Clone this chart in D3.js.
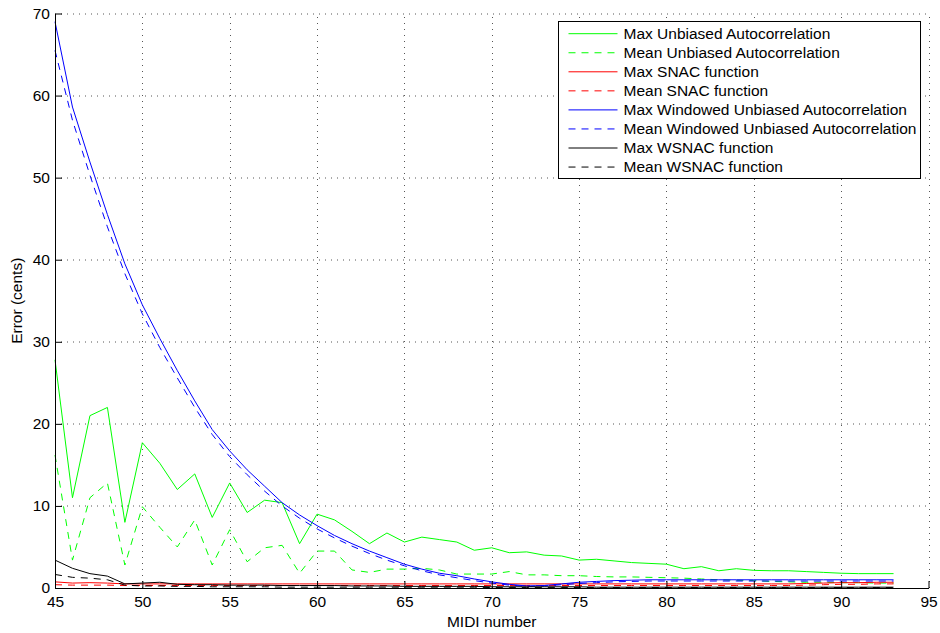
<!DOCTYPE html>
<html>
<head>
<meta charset="utf-8">
<script src="https://cdn.jsdelivr.net/npm/d3@7"></script>
<style>
  html, body { margin: 0; padding: 0; background: #fff; }
  svg { display: block; font-family: "Liberation Sans", Arial, Helvetica, sans-serif; }
</style>
</head>
<body>
<svg id="chart" width="940" height="633"></svg>
<script>
// MIDI note numbers tested
const midi = d3.range(45, 94);

// Pitch error (cents) per MIDI note for each method
const maxUnbiased = [27.8, 11.0, 21.0, 22.0, 8.0, 17.7, 15.2, 12.0, 13.9, 8.6,
  12.8, 9.2, 10.7, 10.4, 5.4, 9.0, 8.3, 6.9, 5.4, 6.7, 5.6, 6.2, 5.9, 5.6, 4.6,
  4.9, 4.3, 4.4, 4.0, 3.9, 3.4, 3.5, 3.3, 3.1, 3.0, 2.9, 2.35, 2.6, 2.1, 2.35,
  2.15, 2.1, 2.1, 2.0, 1.9, 1.8, 1.75, 1.75, 1.75];
const meanUnbiased = [16.2, 3.4, 11.0, 12.8, 2.8, 9.9, 7.4, 5.0, 8.3, 2.8,
  7.1, 3.2, 4.9, 5.2, 1.8, 4.5, 4.5, 2.2, 1.9, 2.3, 2.3, 2.4, 2.2, 1.7, 1.7,
  1.7, 2.0, 1.6, 1.6, 1.5, 1.5, 1.4, 1.35, 1.35, 1.3, 1.25, 1.2, 1.1, 1.0, 0.95,
  0.9, 0.8, 0.75, 0.7, 0.7, 0.65, 0.65, 0.6, 0.6];
const maxSnac = [0.75, 0.6, 0.65, 0.6, 0.5, 0.5, 0.5, 0.5, 0.5, 0.5,
  0.5, 0.5, 0.5, 0.5, 0.5, 0.5, 0.5, 0.5, 0.5, 0.5, 0.5, 0.5, 0.5, 0.5, 0.5,
  0.5, 0.5, 0.5, 0.5, 0.5, 0.5, 0.5, 0.5, 0.5, 0.5, 0.5, 0.5, 0.5, 0.5, 0.5,
  0.5, 0.5, 0.5, 0.55, 0.6, 0.65, 0.65, 0.7, 0.7];
const meanSnac = [0.4, 0.35, 0.35, 0.35, 0.3, 0.3, 0.3, 0.3, 0.3, 0.3,
  0.3, 0.3, 0.3, 0.3, 0.3, 0.3, 0.3, 0.3, 0.3, 0.3, 0.3, 0.3, 0.3, 0.3, 0.3,
  0.3, 0.3, 0.3, 0.3, 0.3, 0.3, 0.3, 0.3, 0.3, 0.3, 0.3, 0.3, 0.3, 0.3, 0.3,
  0.3, 0.3, 0.3, 0.35, 0.4, 0.45, 0.45, 0.5, 0.5];
const maxWindowed = [69.0, 58.6, 51.9, 45.5, 39.5, 34.5, 30.4, 26.5, 22.8, 19.3,
  16.7, 14.4, 12.4, 10.4, 8.9, 7.6, 6.4, 5.4, 4.5, 3.7, 2.9, 2.3, 1.8, 1.5, 1.1,
  0.75, 0.45, 0.25, 0.3, 0.5, 0.7, 0.8, 0.9, 0.95, 1.0, 1.0, 1.0, 1.0, 1.0, 1.0,
  1.0, 1.0, 1.0, 1.0, 1.0, 1.0, 1.0, 1.0, 1.0];
const meanWindowed = [65.5, 57.0, 50.3, 44.0, 38.3, 33.4, 29.3, 25.6, 22.0, 18.7,
  16.0, 13.8, 11.8, 10.0, 8.5, 7.2, 6.1, 5.1, 4.2, 3.4, 2.7, 2.1, 1.6, 1.25, 0.9,
  0.6, 0.35, 0.2, 0.25, 0.4, 0.55, 0.65, 0.75, 0.8, 0.85, 0.85, 0.85, 0.85, 0.85, 0.85,
  0.85, 0.85, 0.85, 0.85, 0.85, 0.85, 0.85, 0.85, 0.85];
const maxWsnac = [3.4, 2.4, 1.75, 1.45, 0.5, 0.6, 0.7, 0.45, 0.4, 0.4,
  0.35, 0.35, 0.35, 0.3, 0.3, 0.3, 0.3, 0.25, 0.25, 0.25, 0.2, 0.2, 0.2, 0.2, 0.2,
  0.15, 0.15, 0.15, 0.15, 0.15, 0.15, 0.1, 0.1, 0.1, 0.1, 0.1, 0.1, 0.1, 0.1, 0.1,
  0.1, 0.1, 0.1, 0.1, 0.1, 0.1, 0.1, 0.1, 0.1];
const meanWsnac = [1.65, 1.3, 1.2, 1.0, 0.35, 0.25, 0.25, 0.2, 0.2, 0.15,
  0.15, 0.15, 0.15, 0.1, 0.1, 0.1, 0.1, 0.1, 0.1, 0.1, 0.1, 0.1, 0.1, 0.1, 0.1,
  0.05, 0.05, 0.05, 0.05, 0.05, 0.05, 0.05, 0.05, 0.05, 0.05, 0.05, 0.05, 0.05, 0.05, 0.05,
  0.05, 0.05, 0.05, 0.05, 0.05, 0.05, 0.05, 0.05, 0.05];

const xTicks = [45, 50, 55, 60, 65, 70, 75, 80, 85, 90, 95];
const yTicks = [0, 10, 20, 30, 40, 50, 60, 70];

const seriesNames = [
  "Max Unbiased Autocorrelation",
  "Mean Unbiased Autocorrelation",
  "Max SNAC function",
  "Mean SNAC function",
  "Max Windowed Unbiased Autocorrelation",
  "Mean Windowed Unbiased Autocorrelation",
  "Max WSNAC function",
  "Mean WSNAC function"
];
const seriesValues = [maxUnbiased, meanUnbiased, maxSnac, meanSnac,
  maxWindowed, meanWindowed, maxWsnac, meanWsnac];
const seriesColors = ["#00ff00", "#00ff00", "#ff0000", "#ff0000",
  "#0000ff", "#0000ff", "#000000", "#000000"];
const seriesDashed = [false, true, false, true, false, true, false, true];

const FONT = "15.5px";
const svg = d3.select("#chart");
const margin = { left: 55, top: 13.5, right: 940 - 928.5, bottom: 633 - 588 };
const W = 940 - margin.left - margin.right;
const H = 633 - margin.top - margin.bottom;

const x = d3.scaleLinear().domain([45, 95]).range([0, W]);
const y = d3.scaleLinear().domain([0, 70]).range([H, 0]);

const g = svg.append("g").attr("transform", `translate(${margin.left},${margin.top})`);

// dotted grid
const grid = g.append("g").attr("stroke", "#555").attr("stroke-width", 1)
  .attr("stroke-dasharray", "1,5");
grid.selectAll(".gx").data(xTicks.slice(1)).join("line")
  .attr("x1", d => Math.round(x(d)) + 0.5).attr("x2", d => Math.round(x(d)) + 0.5)
  .attr("y1", H).attr("y2", 0);
grid.selectAll(".gy").data(yTicks.slice(1)).join("line")
  .attr("y1", d => Math.round(y(d)) + 0.5).attr("y2", d => Math.round(y(d)) + 0.5)
  .attr("x1", 0).attr("x2", W);

// series lines
const line = d3.line().x((d, i) => x(midi[i])).y(d => y(d));
seriesValues.forEach((vals, k) => {
  g.append("path")
    .datum(vals)
    .attr("fill", "none")
    .attr("stroke", seriesColors[k])
    .attr("stroke-width", 1)
    .attr("stroke-dasharray", seriesDashed[k] ? "7,6" : null)
    .attr("d", line);
});

// axes with inward ticks
const xAxis = d3.axisBottom(x).tickValues(xTicks).tickSize(-7).tickPadding(8).tickSizeOuter(0);
const yAxis = d3.axisLeft(y).tickValues(yTicks).tickSize(-7).tickPadding(5).tickSizeOuter(0);

const gx = g.append("g").attr("transform", `translate(0,${H})`).call(xAxis);
const gy = g.append("g").call(yAxis);
[gx, gy].forEach(a => {
  a.select(".domain").attr("stroke", "#000");
  a.selectAll(".tick line").attr("stroke", "#000");
  a.selectAll("text").attr("fill", "#000")
    .style("font-size", FONT)
    .style("font-family", "'Liberation Sans', Arial, Helvetica, sans-serif");
});

// axis titles
svg.append("text")
  .attr("x", margin.left + W / 2).attr("y", 627)
  .attr("text-anchor", "middle")
  .style("font-size", FONT)
  .text("MIDI number");
svg.append("text")
  .attr("transform", `translate(22,${margin.top + H / 2}) rotate(-90)`)
  .attr("text-anchor", "middle")
  .style("font-size", FONT)
  .text("Error (cents)");

// legend
const legend = svg.append("g");
const lx0 = 558.5, ly0 = 21.5, lw = 362, lh = 157;
legend.append("rect")
  .attr("x", lx0).attr("y", ly0).attr("width", lw).attr("height", lh)
  .attr("fill", "#fff").attr("stroke", "#000").attr("stroke-width", 1);
seriesNames.forEach((name, k) => {
  const cy = 33.7 + k * 19.05;
  legend.append("line")
    .attr("x1", 568.5).attr("x2", 617.5).attr("y1", cy).attr("y2", cy)
    .attr("stroke", seriesColors[k]).attr("stroke-width", 1)
    .attr("stroke-dasharray", seriesDashed[k] ? "7,6" : null);
  legend.append("text")
    .attr("x", 623.5).attr("y", cy).attr("dy", "0.35em")
    .style("font-size", FONT)
    .text(name);
});
</script>
</body>
</html>
